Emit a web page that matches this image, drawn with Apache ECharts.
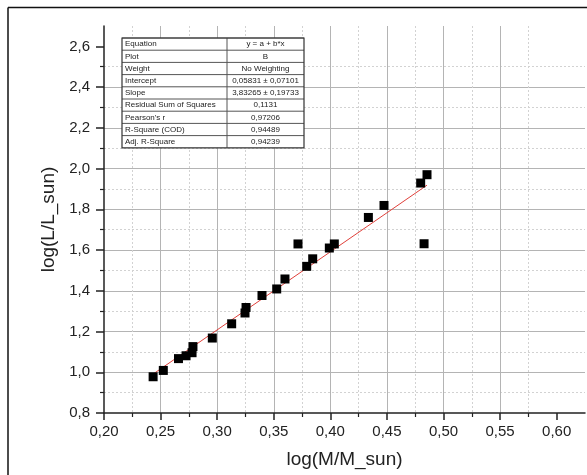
<!DOCTYPE html>
<html>
<head>
<meta charset="utf-8">
<script src="https://cdn.jsdelivr.net/npm/echarts@6/dist/echarts.min.js"></script>
<style>
  html, body { margin: 0; padding: 0; background: #fff; }
  #chart { width: 587px; height: 475px; }
</style>
</head>
<body>
<div id="chart"></div>
<script>
// Mass–luminosity relation, log-log
const logMass = [0.2434, 0.2524, 0.2658, 0.2725, 0.2778, 0.2786, 0.2957, 0.3128, 0.3246, 0.3255,
                 0.3396, 0.3526, 0.3599, 0.3714, 0.3791, 0.3844, 0.3991, 0.4035, 0.4336, 0.4474,
                 0.4798, 0.4828, 0.4854];
const logLum  = [0.978, 1.009, 1.067, 1.081, 1.096, 1.126, 1.168, 1.238, 1.291, 1.318,
                 1.377, 1.409, 1.458, 1.630, 1.520, 1.557, 1.610, 1.630, 1.760, 1.819,
                 1.929, 1.631, 1.970];

// Linear fit parameters (y = a + b*x)
const fitIntercept = 0.05831;
const fitSlope = 3.83265;

const xTicks = [0.20, 0.25, 0.30, 0.35, 0.40, 0.45, 0.50, 0.55, 0.60];
const yTicks = [0.8, 1.0, 1.2, 1.4, 1.6, 1.8, 2.0, 2.2, 2.4, 2.6];

const tableLabels = ['Equation', 'Plot', 'Weight', 'Intercept', 'Slope',
                     'Residual Sum of Squares', "Pearson's r", 'R-Square (COD)', 'Adj. R-Square'];
const tableValues = ['y = a + b*x', 'B', 'No Weighting', '0,05831 \u00b1 0,07101', '3,83265 \u00b1 0,19733',
                     '0,1131', '0,97206', '0,94489', '0,94239'];

const points = logMass.map((x, i) => [x, logLum[i]]);
const xMin = Math.min(...logMass), xMax = Math.max(...logMass);
const fitLine = [[xMin, fitIntercept + fitSlope * xMin], [xMax, fitIntercept + fitSlope * xMax]];

const comma = (v, d) => v.toFixed(d).replace('.', ',');

// Results table, drawn above the plot grid
const tbl = { x: 122, y: 38, w: 182, split: 105, rowH: 12.2 };
const TZ = 100;
const tableChildren = [{
  type: 'rect', z: TZ, shape: { x: 0, y: 0, width: tbl.w, height: tbl.rowH * tableLabels.length },
  style: { fill: '#fff', stroke: null }
}];
tableLabels.forEach((lab, i) => {
  const y = i * tbl.rowH;
  tableChildren.push({
    type: 'line', z: TZ + 1, shape: { x1: 0, y1: y, x2: tbl.w, y2: y },
    style: { stroke: '#555', lineWidth: 1 }
  });
  tableChildren.push({
    type: 'text', z: TZ + 2, x: 3, y: y + tbl.rowH / 2,
    style: { text: lab, fontFamily: 'Liberation Sans, Arial', fontSize: 8, fill: '#222', verticalAlign: 'middle' }
  });
  tableChildren.push({
    type: 'text', z: TZ + 2, x: (tbl.split + tbl.w) / 2, y: y + tbl.rowH / 2,
    style: { text: tableValues[i], fontFamily: 'Liberation Sans, Arial', fontSize: 8, fill: '#222',
             align: 'center', verticalAlign: 'middle' }
  });
});
tableChildren.push({
  type: 'line', z: TZ + 1, shape: { x1: tbl.split, y1: 0, x2: tbl.split, y2: tbl.rowH * tableLabels.length },
  style: { stroke: '#555', lineWidth: 1 }
});
tableChildren.push({
  type: 'rect', z: TZ + 1, shape: { x: 0, y: 0, width: tbl.w, height: tbl.rowH * tableLabels.length },
  style: { fill: 'none', stroke: '#333', lineWidth: 1.2 }
});

const axisFont = { fontFamily: 'Liberation Sans, Arial', fontSize: 15, color: '#222' };

const chart = echarts.init(document.getElementById('chart'), null, { renderer: 'canvas' });
chart.setOption({
  backgroundColor: '#fff',
  animation: false,
  grid: { left: 104, right: 2, top: 26, bottom: 62, containLabel: false },
  xAxis: {
    type: 'value', min: 0.2, max: 0.625, interval: 0.05,
    name: 'log(M/M_sun)', nameLocation: 'middle', nameGap: 37,
    nameTextStyle: { fontFamily: 'Liberation Sans, Arial', fontSize: 19, color: '#222' },
    axisLine: { show: true, onZero: false, lineStyle: { color: '#222', width: 1.5 } },
    axisTick: { show: true, inside: false, length: 7, customValues: xTicks, lineStyle: { color: '#222', width: 1.5 } },
    minorTick: { show: true, splitNumber: 2, length: 4, lineStyle: { color: '#222', width: 1.2 } },
    axisLabel: { customValues: xTicks, margin: 11, formatter: v => comma(v, 2), ...axisFont },
    splitLine: { show: true, showMinLine: false, showMaxLine: false, lineStyle: { color: '#b4b4b4', width: 1 } },
    minorSplitLine: { show: true, lineStyle: { color: '#d2d2d2', width: 1, type: [2, 2] } }
  },
  yAxis: {
    type: 'value', min: 0.8, max: 2.7, interval: 0.2,
    name: 'log(L/L_sun)', nameLocation: 'middle', nameGap: 31,
    nameTextStyle: { fontFamily: 'Liberation Sans, Arial', fontSize: 19, color: '#222' },
    axisLine: { show: true, onZero: false, lineStyle: { color: '#222', width: 1.5 } },
    axisTick: { show: true, inside: false, length: 8, customValues: yTicks, lineStyle: { color: '#222', width: 1.5 } },
    minorTick: { show: true, splitNumber: 2, length: 4, lineStyle: { color: '#222', width: 1.2 } },
    axisLabel: { customValues: yTicks, margin: 14, formatter: v => comma(v, 1), ...axisFont },
    splitLine: { show: true, showMinLine: false, showMaxLine: false, lineStyle: { color: '#b4b4b4', width: 1 } },
    minorSplitLine: { show: true, lineStyle: { color: '#d2d2d2', width: 1, type: [2, 2] } }
  },
  series: [
    {
      type: 'line', data: fitLine, symbol: 'none', z: 3,
      lineStyle: { color: '#e0403a', width: 1 }
    },
    {
      type: 'scatter', data: points, symbol: 'rect', symbolSize: 9, z: 4,
      itemStyle: { color: '#000', opacity: 1 }
    }
  ],
  graphic: [
    { type: 'line', shape: { x1: 8, y1: 7.5, x2: 587, y2: 7.5 }, style: { stroke: '#111', lineWidth: 1.5 } },
    { type: 'line', shape: { x1: 8, y1: 7.5, x2: 8, y2: 475 }, style: { stroke: '#111', lineWidth: 1.5 } },
    { type: 'group', x: tbl.x, y: tbl.y, z: TZ, children: tableChildren }
  ]
});
</script>
</body>
</html>
